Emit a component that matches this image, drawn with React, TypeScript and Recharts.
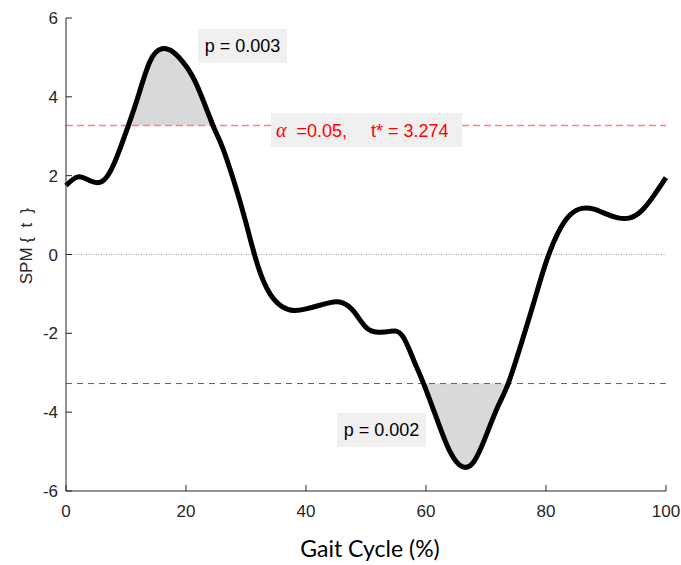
import React from 'react';
import { Area, ComposedChart, Line, ReferenceLine, XAxis, YAxis } from 'recharts';

// SPM{t} trajectory over the gait cycle
const gaitCycle = [
  0, 2, 4, 6, 8, 10.4, 12, 14, 16, 18, 20, 22, 24.5, 26, 28, 30, 32, 34, 36, 38, 40, 42, 44, 46,
  48, 50, 52, 54, 56, 58, 59.6, 62, 64, 66, 68, 70, 72, 73.7, 76, 78, 80, 82, 84, 86, 88, 90, 92, 94,
  96, 98, 100,
];
const spmT = [
  1.75, 1.97, 1.87, 1.85, 2.3, 3.274, 4.0, 4.9, 5.22, 5.12, 4.78, 4.23, 3.274, 2.75, 1.85,
  0.8, -0.3, -1.0, -1.32, -1.42, -1.38, -1.3, -1.22, -1.22, -1.45, -1.85, -1.97, -1.95, -2.05, -2.7,
  -3.274, -4.25, -5.0, -5.38, -5.25, -4.6, -3.85, -3.274, -2.2, -1.2, -0.2, 0.55, 1.0, 1.17, 1.15, 1.03,
  0.93, 0.93, 1.12, 1.5, 1.95,
];
const tCritical = 3.274;
const xTicks = [0, 20, 40, 60, 80, 100];
const yTicks = [-6, -4, -2, 0, 2, 4, 6];

const data = gaitCycle.map((x, i) => {
  const t = spmT[i];
  return {
    x,
    t,
    upper: t >= tCritical - 1e-6 ? [tCritical, t] : null,
    lower: t <= -tCritical + 1e-6 ? [t, -tCritical] : null,
  };
});

const axisColor = '#262626';
const font = '"Liberation Sans", Arial, sans-serif';

const XTick = (props: any) => {
  const { x, y, payload } = props;
  return (
    <g>
      <line x1={x} y1={y} x2={x} y2={y - 6} stroke={axisColor} />
      <text x={x} y={y + 26} textAnchor="middle" fontSize={17} fontFamily={font} fill={axisColor}>
        {payload.value}
      </text>
    </g>
  );
};

const YTick = (props: any) => {
  const { x, y, payload } = props;
  return (
    <g>
      <line x1={x} y1={y} x2={x + 6} y2={y} stroke={axisColor} />
      <text x={x - 8} y={y + 6} textAnchor="end" fontSize={17} fontFamily={font} fill={axisColor}>
        {payload.value}
      </text>
    </g>
  );
};

const boxStyle: React.CSSProperties = {
  position: 'absolute',
  background: '#f0f0f0',
  height: 34,
  lineHeight: '34px',
  fontFamily: font,
  fontSize: 18,
  whiteSpace: 'pre',
};

export default function App() {
  return (
    <div style={{ position: 'absolute', left: 0, top: 0, width: 681, height: 565, background: '#fff' }}>
      <ComposedChart width={681} height={565} data={data} margin={{ top: 18, right: 15, left: 0, bottom: 0 }}>
        <XAxis
          dataKey="x"
          type="number"
          domain={[0, 100]}
          ticks={xTicks}
          height={74}
          tickSize={0}
          tickMargin={0}
          tickLine={false}
          tick={<XTick />}
          axisLine={{ stroke: axisColor }}
          label={{
            content: () => (
              <text x={370} y={557} textAnchor="middle" fontSize={23} fontFamily="Lato, sans-serif" fill="#000">
                Gait Cycle (%)
              </text>
            ),
          }}
        />
        <YAxis
          type="number"
          domain={[-6, 6]}
          ticks={yTicks}
          width={66}
          tickSize={0}
          tickMargin={0}
          tickLine={false}
          tick={<YTick />}
          axisLine={{ stroke: axisColor }}
          label={{
            content: () => (
              <text
                x={32}
                y={246}
                transform="rotate(-90 32 246)"
                textAnchor="middle"
                fontSize={17}
                fontFamily={font}
                fill={axisColor}
                style={{ whiteSpace: 'pre' }}
              >
                {'SPM {  t  }'}
              </text>
            ),
          }}
        />
        <ReferenceLine y={0} stroke="#999" strokeDasharray="1 1.5" strokeWidth={1} />
        <ReferenceLine y={tCritical} stroke="#ff7f7f" strokeDasharray="7 4" strokeWidth={1.6} />
        <ReferenceLine y={-tCritical} stroke="#e02828" strokeDasharray="6 5" strokeWidth={1} />
        <Area dataKey="upper" type="natural" stroke="none" fill="#d9d9d9" fillOpacity={1} isAnimationActive={false} />
        <Area dataKey="lower" type="natural" stroke="none" fill="#d9d9d9" fillOpacity={1} isAnimationActive={false} />
        <Line dataKey="t" type="natural" stroke="#000" strokeWidth={5} dot={false} isAnimationActive={false} />
      </ComposedChart>
      <div style={{ ...boxStyle, left: 198, top: 29, width: 89, textAlign: 'center', color: '#000' }}>p = 0.003</div>
      <div style={{ ...boxStyle, left: 271, top: 113, width: 191, color: '#ff0000' }}>
        <span style={{ fontFamily: '"Liberation Serif", serif', fontStyle: 'italic', marginLeft: 5, fontSize: 20 }}>α</span>
        <span style={{ marginLeft: 10 }}>=0.05,</span>
        <span style={{ marginLeft: 24 }}>t* = 3.274</span>
      </div>
      <div style={{ ...boxStyle, left: 337, top: 413, width: 89, textAlign: 'center', color: '#000' }}>p = 0.002</div>
    </div>
  );
}
